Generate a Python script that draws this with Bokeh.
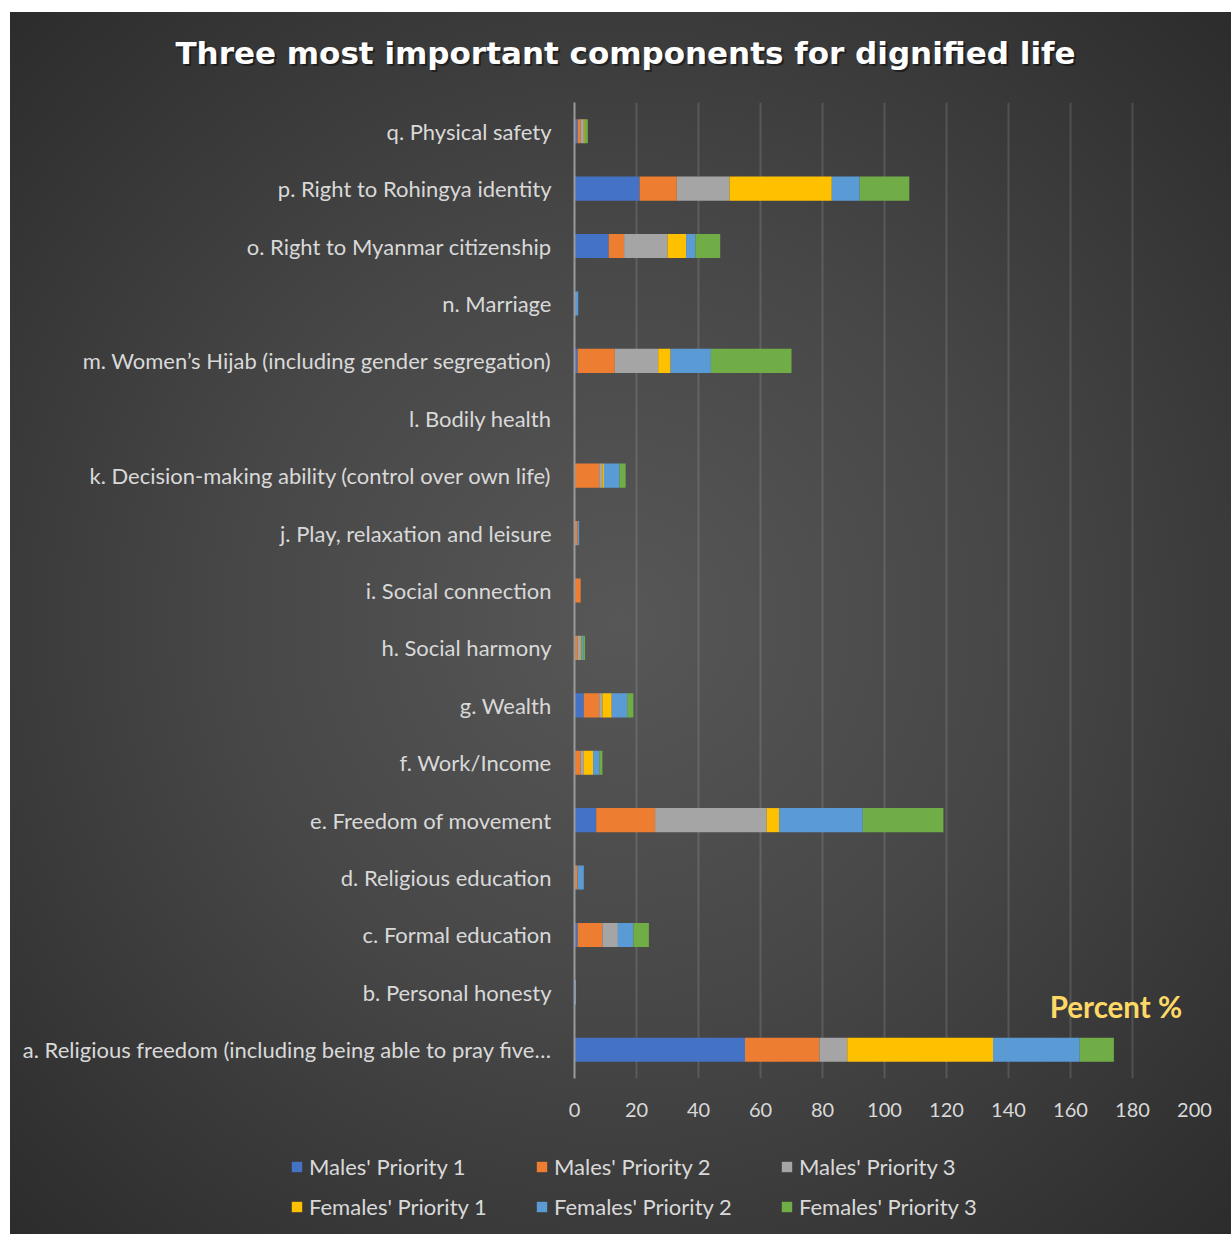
from bokeh.plotting import figure
from bokeh.layouts import column
from bokeh.models import (ColumnDataSource, FactorRange, Legend, LegendItem,
                          SingleIntervalTicker, Label)
from bokeh.embed import file_html
from bokeh.resources import INLINE

# Components, bottom (a) to top (q)
categories = [
    "a. Religious freedom (including being able to pray five…",
    "b. Personal honesty",
    "c. Formal education",
    "d. Religious education",
    "e. Freedom of movement",
    "f. Work/Income",
    "g. Wealth",
    "h. Social harmony",
    "i. Social connection",
    "j. Play, relaxation and leisure",
    "k. Decision-making ability (control over own life)",
    "l. Bodily health",
    "m. Women’s Hijab (including gender segregation)",
    "n. Marriage",
    "o. Right to Myanmar citizenship",
    "p. Right to Rohingya identity",
    "q. Physical safety",
]

# Percent of respondents naming each component, by group and priority
males_p1 = [55, 0, 1, 0, 7, 0, 3, 0, 0, 0, 0, 0, 1, 0, 11, 21, 1]
males_p2 = [24, 0, 8, 1, 19, 2, 5, 1, 2, 1, 8, 0, 12, 0, 5, 12, 1]
males_p3 = [9, 0, 5, 0, 36, 1, 1, 0.9, 0, 0, 1, 0, 14, 0, 14, 17, 1]
females_p1 = [47, 0, 0, 0, 4, 3, 3, 0.3, 0, 0, 0.5, 0, 4, 0, 6, 33, 0.3]
females_p2 = [28, 0.5, 5, 2, 27, 2, 5, 0.6, 0, 0.5, 5, 0, 13, 1.2, 3, 9, 0]
females_p3 = [11, 0, 5, 0, 26, 1, 2, 0.6, 0, 0, 2, 0, 26, 0, 8, 16, 1]

series = ["Males' Priority 1", "Males' Priority 2", "Males' Priority 3",
          "Females' Priority 1", "Females' Priority 2", "Females' Priority 3"]
keys = ["m1", "m2", "m3", "f1", "f2", "f3"]
colors = ["#4472C4", "#ED7D31", "#A5A5A5", "#FFC000", "#5B9BD5", "#70AD47"]

title_text = "Three most important components for dignified life"

source = ColumnDataSource(dict(
    cat=categories,
    m1=males_p1, m2=males_p2, m3=males_p3,
    f1=females_p1, f2=females_p2, f3=females_p3,
))

LABEL_FONT = "Lato"
TEXT_COLOR = "#D9D9D9"


def blank_strip(height, **kw):
    """A transparent, axis-free figure whose frame fills the whole strip."""
    f = figure(width=1221, height=height, output_backend="svg",
               toolbar_location=None, min_border=0, outline_line_color=None, **kw)
    f.frame_align = False
    f.axis.visible = False
    f.grid.visible = False
    f.border_fill_color = None
    f.background_fill_color = None
    return f


# Title strip
head = blank_strip(90, x_range=(0, 1), y_range=(0, 1))
for dx, dy, col, alpha in [(2, -2, "#000000", 0.45), (0, 0, "#FFFFFF", 1.0)]:
    head.add_layout(Label(x=615 + dx, y=50 + dy, x_units="screen", y_units="screen",
                          text=title_text, text_align="center", text_baseline="middle",
                          text_font="DejaVu Sans", text_font_style="bold",
                          text_font_size="31px", text_color=col, text_alpha=alpha))

# Main chart
p = figure(
    y_range=FactorRange(*categories),
    x_range=(0, 200),
    width=1221, height=1033,
    output_backend="svg", toolbar_location=None,
    min_border_left=564, min_border_right=37,
    min_border_top=0, min_border_bottom=57,
)
p.border_fill_color = None
p.background_fill_color = None
p.outline_line_color = None
p.frame_align = False

renderers = p.hbar_stack(keys, y="cat", height=0.42, color=colors,
                         line_color=None, source=source)

p.xaxis.ticker = SingleIntervalTicker(interval=20)
p.xaxis.axis_line_color = None
p.xaxis.major_tick_line_color = None
p.xaxis.minor_tick_line_color = None
p.xaxis.major_label_text_font = LABEL_FONT
p.xaxis.major_label_text_font_size = "20px"
p.xaxis.major_label_text_color = TEXT_COLOR
p.xaxis.major_label_standoff = 18

p.yaxis.axis_line_color = "#9a9a9a"
p.yaxis.axis_line_width = 2
p.yaxis.major_tick_line_color = None
p.yaxis.minor_tick_line_color = None
p.yaxis.major_label_text_font = LABEL_FONT
p.yaxis.major_label_text_font_size = "22px"
p.yaxis.major_label_text_color = TEXT_COLOR
p.yaxis.major_label_standoff = 17

p.ygrid.grid_line_color = None
p.xgrid.grid_line_color = "#ffffff"
p.xgrid.grid_line_alpha = 0.13
p.xgrid.grid_line_width = 2

# Unit note
p.add_layout(Label(x=196, x_units="data", y=55, y_units="screen",
                   text="Percent %", text_align="right",
                   text_font=LABEL_FONT, text_font_style="bold",
                   text_font_size="29.5px", text_color="#FFD966"))

# Legend strip under the chart; its keys come from hidden copies of the series
leg = blank_strip(99, x_range=(0, 200), y_range=FactorRange(*categories))
key_renderers = leg.hbar_stack(keys, y="cat", height=0.42, color=colors,
                               line_color=None, source=source, visible=False)
legend = Legend(
    items=[LegendItem(label=s, renderers=[r]) for s, r in zip(series, key_renderers)],
    orientation="horizontal", ncols=3,
    location=(280, 14),
    label_text_font=LABEL_FONT, label_text_font_size="22px",
    label_text_color=TEXT_COLOR,
    glyph_width=13, glyph_height=13,
    label_standoff=6, label_width=213, label_height=24,
    spacing=13, padding=0, margin=0,
    background_fill_alpha=0, border_line_alpha=0,
)
leg.add_layout(legend, "center")

page = column(head, p, leg, spacing=0)
page.margin = (12, 0, 0, 10)
page.styles = {"background": "radial-gradient(ellipse at 50% 50%, #575757 0%, #474747 45%, #2c2c2c 100%)"}

open("out.html", "w").write(file_html(page, INLINE))
